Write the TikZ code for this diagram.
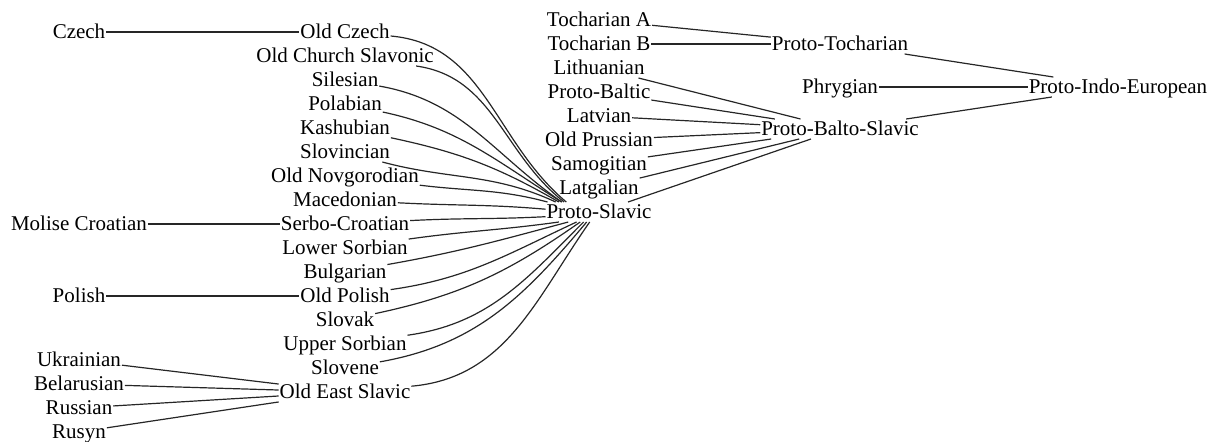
\documentclass[tikz,border=0pt]{standalone}
\usepackage{fontspec}
\setmainfont{Liberation Serif}
\usetikzlibrary{positioning}
\tikzstyle{T} = [inner sep=0.3pt,
			text height=7.5pt, text depth=1.5pt,
			font=\fontsize{10.5}{12}\selectfont]
\tikzstyle{L} = [draw, line width=0.6pt, black!85]

\begin{document}
\begin{tikzpicture}[x=0.5pt, y=-0.5pt, node distance=12pt, on grid]

\useasboundingbox (0,0) rectangle (1212,441);

\node [T] (oc) at (345,32) {Old Czech};

\node [T, below of =oc] (ocs) {Old Church Slavonic};

\node [T, below of =ocs] (sil) {Silesian};

\node [T, below of =sil] (pol) {Polabian};

\node [T, below of =pol] (kas) {Kashubian};

\node [T, below of =kas] (slc) {Slovincian};

\node [T, below of =slc] (onv) {Old Novgorodian};

\node [T, below of =onv] (mac) {Macedonian};

\node [T, below of =mac] (sc) {Serbo-Croatian};

\node [T, below of =sc] (ls) {Lower Sorbian};

\node [T, below of =ls] (bul) {Bulgarian};

\node [T, below of =bul] (op) {Old Polish};

\node [T, below of =op] (slk) {Slovak};

\node [T, below of =slk] (us) {Upper Sorbian};

\node [T, below of =us] (sln) {Slovene};

\node [T, below of =sln] (oes) {Old East Slavic};

\node [T, left of =oc, node distance =133pt] (cz) {Czech};

\node [T, left of =sc, node distance =133pt] (mc) {Molise Croatian};

\node [T, left of =op, node distance =133pt] (pl) {Polish};

\node [T] (ukr) at (79,360) {Ukrainian};

\node [T, below of =ukr] (bel) {Belarusian};

\node [T, below of =bel] (rus) {Russian};

\node [T, below of =rus] (rsn) {Rusyn};

\node [T] (ta) at (599,20) {Tocharian A};

\node [T, below of =ta] (tb) {Tocharian B};

\node [T, below of =tb] (lit) {Lithuanian};

\node [T, below of =lit] (pbal) {Proto-Baltic};

\node [T, below of =pbal] (lat) {Latvian};

\node [T, below of =lat] (opr) {Old Prussian};

\node [T, below of =opr] (sam) {Samogitian};

\node [T, below of =sam] (ltg) {Latgalian};

\node [T, below of =ltg] (ps) {Proto-Slavic};

\node [T, right of =tb, node distance =120.5pt] (ptoc) {Proto-Tocharian};

\node [T] (phr) at (840,87) {Phrygian};

\node [T] (pbs) at (840,129) {Proto-Balto-Slavic};

\node [T, right of =phr, node distance =139pt] (pie) {Proto-Indo-European};

\path[L] (cz) -- (oc);

\path[L] (mc) -- (sc);

\path[L] (pl) -- (op);

\path[L] (ukr) -- (oes);

\path[L] (bel) -- (oes);

\path[L] (rus) -- (oes);

\path[L] (rsn) -- (oes);

\path[L] (oc) to [out=-5, in=140] (ps.163);

\path[L] (ocs) to [out=-8, in=142] (ps.164);

\path[L] (sil) to [out=-10, in=145] (ps.165);

\path[L] (pol) to [out=-12, in=148] (ps.165);

\path[L] (kas) to [out=-12, in=150] (ps.166);

\path[L] (slc) to [out=-15, in=155] (ps.167);

\path[L] (onv) to [out=-7, in=165] (ps.169);

\path[L] (mac) to [out=-3, in=175] (ps.177);

\path[L] (sc) to [out=3, in=183] (ps.185);

\path[L] (ls) to [out=8, in=188] (ps.194);

\path[L] (bul) to [out=10, in=195] (ps.198);

\path[L] (op) to [out=8, in=205] (ps.204);

\path[L] (slk) to [out=12, in=215] (ps.208);

\path[L] (us) to [out=8, in=225] (ps.213);

\path[L] (sln) to [out=10, in=230] (ps.219);

\path[L] (oes) to [out=5, in=235] (ps.227);

\path[L] (ta) -- (ptoc);

\path[L] (tb) -- (ptoc);

\path[L] (lit) -- (pbs);

\path[L] (pbal) -- (pbs);

\path[L] (lat) -- (pbs);

\path[L] (opr) -- (pbs);

\path[L] (sam) -- (pbs);

\path[L] (ltg) -- (pbs);

\path[L] (ps) -- (pbs);

\path[L] (ptoc) -- (pie);

\path[L] (phr) -- (pie);

\path[L] (pbs) -- (pie);

\end{tikzpicture}
\end{document}
